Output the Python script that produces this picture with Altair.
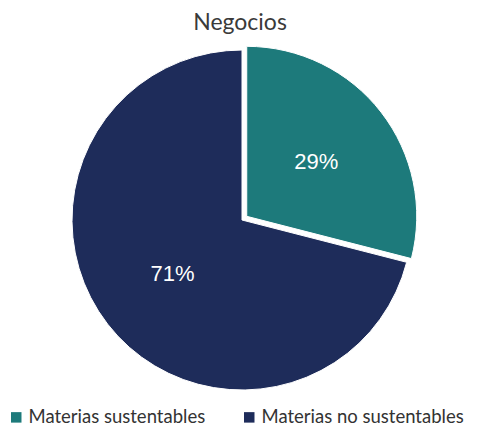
import altair as alt
import pandas as pd

categories = ["Materias sustentables", "Materias no sustentables"]
values = [29, 71]
colors = ["#1d7a7b", "#1e2c5a"]
explode = [1, 0]
order = [0, 1]

df = pd.DataFrame({"category": categories, "value": values, "explode": explode, "order": order})

CX, CY, R, OFF, LR = 234, 172, 170, 6, 88

base = (
    alt.Chart(df)
    .transform_joinaggregate(total="sum(value)")
    .transform_window(cum="sum(value)", sort=[alt.SortField("order")], frame=[None, 0])
    .transform_calculate(
        start="(datum.cum - datum.value) / datum.total * 2 * PI",
        end="datum.cum / datum.total * 2 * PI",
    )
    .transform_calculate(mid="(datum.start + datum.end) / 2")
    .transform_calculate(
        cx=f"{CX} + datum.explode * {OFF} * sin(datum.mid)",
        cy=f"{CY} - datum.explode * {OFF} * cos(datum.mid)",
        lx=f"{CX} + (datum.explode * {OFF} + {LR}) * sin(datum.mid)",
        ly=f"{CY} - (datum.explode * {OFF} + {LR}) * cos(datum.mid)",
        label="datum.value + '%'",
    )
)

arcs = base.mark_arc(outerRadius=R, stroke="white", strokeWidth=1).encode(
    theta=alt.Theta("start:Q", scale=None, stack=None),
    theta2="end:Q",
    x=alt.X("cx:Q", scale=None),
    y=alt.Y("cy:Q", scale=None),
    color=alt.Color(
        "category:N",
        scale=alt.Scale(domain=categories, range=colors),
        sort=categories,
        legend=alt.Legend(
            title=None,
            orient="none",
            legendX=-1,
            legendY=360,
            direction="horizontal",
            symbolType="square",
            symbolSize=110,
            symbolStrokeWidth=0,
            labelFont="Lato",
            labelFontSize=18.5,
            labelColor="#333333",
            labelOffset=3,
            labelLimit=400,
            columnPadding=34,
        ),
    ),
)

labels = base.mark_text(
    font="Liberation Sans", fontSize=22, color="white", baseline="middle", align="center"
).encode(
    x=alt.X("lx:Q", scale=None),
    y=alt.Y("ly:Q", scale=None),
    text="label:N",
)

chart = (
    alt.layer(arcs, labels)
    .properties(
        width=464,
        height=371,
        autosize=alt.AutoSizeParams(type="none"),
        padding={"left": 0, "top": 40, "right": 0, "bottom": 8},
        title=alt.Title(
            "Negocios",
            font="Lato",
            fontSize=23,
            fontWeight="normal",
            color="#3a3a3a",
            anchor="middle",
            offset=9,
        ),
    )
    .configure_view(stroke=None)
)

chart.save("out.html", embed_options={"renderer": "svg", "actions": False})
